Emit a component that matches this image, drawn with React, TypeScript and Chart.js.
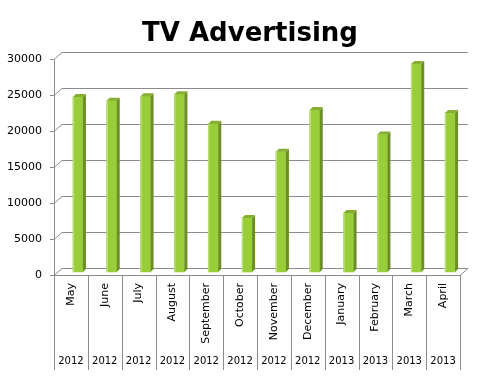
import { useEffect, useRef } from 'react';
import { Chart, registerables } from 'chart.js';

Chart.register(...registerables);

const months = ['May', 'June', 'July', 'August', 'September', 'October', 'November', 'December', 'January', 'February', 'March', 'April'];
const years = ['2012', '2012', '2012', '2012', '2012', '2012', '2012', '2012', '2013', '2013', '2013', '2013'];
const spend = [24300, 23800, 24400, 24700, 20600, 7500, 16700, 22500, 8200, 19100, 28900, 22100];
const yMin = 0;
const yMax = 30000;
const yStep = 5000;

const FONT = "'DejaVu Sans', Verdana, sans-serif";
const WALL_DX = 8;
const WALL_DY = -7;
const BAR_DX = 7;
const BAR_DY = -3;
const SIDE = 3;
const GRID = '#8c8c8c';

const threeD = {
  id: 'threeD',
  beforeDatasetsDraw(chart: any) {
    const { ctx, chartArea, scales } = chart;
    const { left, right, bottom } = chartArea;
    const y = scales.y;
    ctx.save();
    ctx.strokeStyle = GRID;
    ctx.lineWidth = 1;
    ctx.beginPath();
    for (let v = yMin; v <= yMax; v += yStep) {
      const yf = Math.round(y.getPixelForValue(v)) + 0.5;
      ctx.moveTo(left - 4, yf);
      ctx.lineTo(left, yf);
      ctx.lineTo(left + WALL_DX, yf + WALL_DY);
      ctx.lineTo(right + WALL_DX, yf + WALL_DY);
    }
    const yb = Math.round(bottom) + 0.5;
    const yt = Math.round(y.getPixelForValue(yMax)) + 0.5;
    ctx.moveTo(left + 0.5, yt);
    ctx.lineTo(left + 0.5, yb);
    ctx.moveTo(left, yb);
    ctx.lineTo(right, yb);
    ctx.lineTo(right + WALL_DX, yb + WALL_DY);
    ctx.stroke();
    ctx.restore();
    ctx.save();
    ctx.translate(BAR_DX, BAR_DY);
  },
  afterDatasetsDraw(chart: any) {
    const { ctx } = chart;
    const meta = chart.getDatasetMeta(0);
    meta.data.forEach((bar: any) => {
      const { x, y, base, width } = bar.getProps(['x', 'y', 'base', 'width'], true);
      const l = x - width / 2;
      const r = x + width / 2;
      ctx.fillStyle = '#6b8f26';
      ctx.beginPath();
      ctx.moveTo(r, y);
      ctx.lineTo(r + SIDE, y - SIDE);
      ctx.lineTo(r + SIDE, base - SIDE);
      ctx.lineTo(r, base);
      ctx.closePath();
      ctx.fill();
      ctx.fillStyle = '#86ae33';
      ctx.beginPath();
      ctx.moveTo(l, y);
      ctx.lineTo(l + SIDE, y - SIDE);
      ctx.lineTo(r + SIDE, y - SIDE);
      ctx.lineTo(r, y);
      ctx.closePath();
      ctx.fill();
      ctx.fillStyle = '#c4e283';
      ctx.fillRect(l, y, 1, base - y);
    });
    ctx.restore();
  },
  afterDraw(chart: any) {
    const { ctx, chartArea } = chart;
    const { left, right, bottom } = chartArea;
    const w = (right - left) / months.length;
    ctx.save();
    ctx.strokeStyle = GRID;
    ctx.lineWidth = 1;
    ctx.beginPath();
    for (let i = 0; i <= months.length; i++) {
      const x = Math.round(left + i * w) + 0.5;
      ctx.moveTo(x, bottom);
      ctx.lineTo(x, 370);
    }
    ctx.stroke();
    ctx.fillStyle = '#000';
    ctx.font = `10px ${FONT}`;
    ctx.textAlign = 'center';
    ctx.textBaseline = 'middle';
    years.forEach((yr, i) => {
      ctx.fillText(yr, left + (i + 0.5) * w, 361);
    });
    ctx.restore();
  },
};

export default function App() {
  const ref = useRef<HTMLCanvasElement>(null);
  useEffect(() => {
    if (!ref.current) return;
    const chart = new Chart(ref.current, {
      type: 'bar',
      data: {
        labels: months,
        datasets: [
          {
            data: spend,
            backgroundColor: '#9acd3a',
            borderWidth: 0,
            barThickness: 10,
            clip: false as any,
          },
        ],
      },
      options: {
        animation: false,
        responsive: false,
        devicePixelRatio: 1,
        layout: { padding: 0 },
        plugins: {
          legend: { display: false },
          tooltip: { enabled: false },
          title: {
            display: true,
            text: 'TV Advertising',
            color: '#000',
            font: { family: FONT, size: 26, weight: 'bold' },
            padding: { top: 19, bottom: 8.8 },
          },
        },
        scales: {
          x: {
            grid: { display: false, drawTicks: false },
            border: { display: false },
            ticks: {
              autoSkip: false,
              minRotation: 90,
              maxRotation: 90,
              padding: 8,
              color: '#000',
              font: { family: FONT, size: 11 },
            },
            afterFit: (s: any) => {
              s.height = 101;
            },
          },
          y: {
            min: yMin,
            max: yMax,
            grid: { display: false, drawTicks: false },
            border: { display: false },
            ticks: {
              stepSize: yStep,
              padding: 12,
              color: '#000',
              font: { family: FONT, size: 11 },
              callback: (v: any) => String(v),
            },
            afterFit: (s: any) => {
              s.width = 54;
            },
          },
          yRight: {
            position: 'right',
            grid: { display: false, drawTicks: false },
            border: { display: false },
            ticks: { display: false },
            afterFit: (s: any) => {
              s.width = 40;
            },
          },
        },
      },
      plugins: [threeD],
    });
    return () => chart.destroy();
  }, []);
  return (
    <div style={{ position: 'absolute', left: 0, top: 0, width: 500, height: 376, background: '#fff' }}>
      <canvas ref={ref} width={500} height={376} />
    </div>
  );
}
